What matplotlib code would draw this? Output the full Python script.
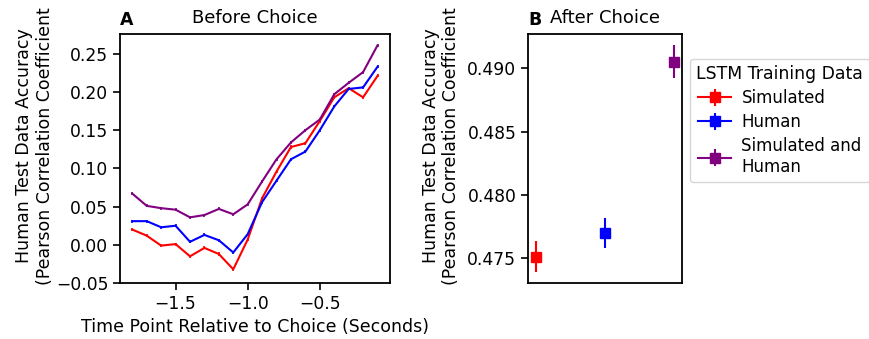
import matplotlib
matplotlib.use("Agg")
import matplotlib.pyplot as plt

# time points relative to choice (seconds)
time_points = [-1.8, -1.7, -1.6, -1.5, -1.4, -1.3, -1.2, -1.1, -1.0,
               -0.9, -0.8, -0.7, -0.6, -0.5, -0.4, -0.3, -0.2, -0.1]

before_simulated = [0.020, 0.012, -0.001, 0.001, -0.015, -0.004, -0.012, -0.032, 0.007,
                    0.061, 0.096, 0.128, 0.133, 0.162, 0.193, 0.205, 0.193, 0.221]
before_human = [0.031, 0.031, 0.023, 0.025, 0.004, 0.013, 0.006, -0.010, 0.014,
                0.056, 0.084, 0.112, 0.122, 0.150, 0.181, 0.204, 0.206, 0.233]
before_both = [0.067, 0.051, 0.048, 0.046, 0.036, 0.039, 0.047, 0.040, 0.053,
               0.083, 0.112, 0.134, 0.150, 0.164, 0.197, 0.212, 0.226, 0.261]

after_labels = ["Simulated", "Human", "Simulated and\nHuman"]
after_values = [0.4751, 0.47695, 0.49053]
after_errors = [0.0012, 0.0012, 0.0013]

colors = ["red", "blue", "purple"]
ylabel_text = "Human Test Data Accuracy\n(Pearson Correlation Coefficient"

plt.rcParams["font.family"] = "DejaVu Sans"
plt.rcParams["font.size"] = 12.3

fig = plt.figure(figsize=(8.7, 3.39), dpi=100)
ax1 = fig.add_axes([0.138, 0.165, 0.310, 0.735])
ax2 = fig.add_axes([0.607, 0.165, 0.177, 0.735])

series = [before_simulated, before_human, before_both]
for vals, c in zip(series, colors):
    ax1.errorbar(time_points, vals, yerr=0.002, color=c, lw=1.5, elinewidth=1.2)

ax1.set_ylim(-0.05, 0.276)
ax1.set_yticks([-0.05, 0.0, 0.05, 0.10, 0.15, 0.20, 0.25])
ax1.set_xticks([-1.5, -1.0, -0.5])
ax1.set_xlabel("Time Point Relative to Choice (Seconds)", fontsize=12.5)
ax1.set_ylabel(ylabel_text, fontsize=12.5)
ax1.yaxis.set_label_coords(-0.245, 0.55)
ax1.set_title("Before Choice", fontsize=13, pad=8)
ax1.text(0.0, 1.035, "A", transform=ax1.transAxes, fontweight="bold", fontsize=12.5)

for i, (lab, v, e, c) in enumerate(zip(after_labels, after_values, after_errors, colors)):
    ax2.errorbar(i, v, yerr=e, color=c, marker="s", markersize=7, elinewidth=1.5,
                 label=lab)
ax2.set_xlim(-0.116, 2.116)
ax2.set_xticks([])
ax2.set_yticks([0.475, 0.480, 0.485, 0.490])
ax2.set_ylabel(ylabel_text, fontsize=12.5)
ax2.yaxis.set_label_coords(-0.44, 0.55)
ax2.set_title("After Choice", fontsize=13, pad=8)
ax2.text(0.0, 1.035, "B", transform=ax2.transAxes, fontweight="bold", fontsize=12.5)

for ax in (ax1, ax2):
    ax.tick_params(length=5, width=1.2)
    for s in ax.spines.values():
        s.set_linewidth(1.3)

ax2.legend(title="LSTM Training Data", loc="upper left", bbox_to_anchor=(1.05, 0.9),
           fontsize=12, title_fontsize=12.4, handlelength=2.0, borderaxespad=0.0,
           borderpad=0.4, labelspacing=0.35, handletextpad=0.6)

fig.savefig("out.png", dpi=100)
